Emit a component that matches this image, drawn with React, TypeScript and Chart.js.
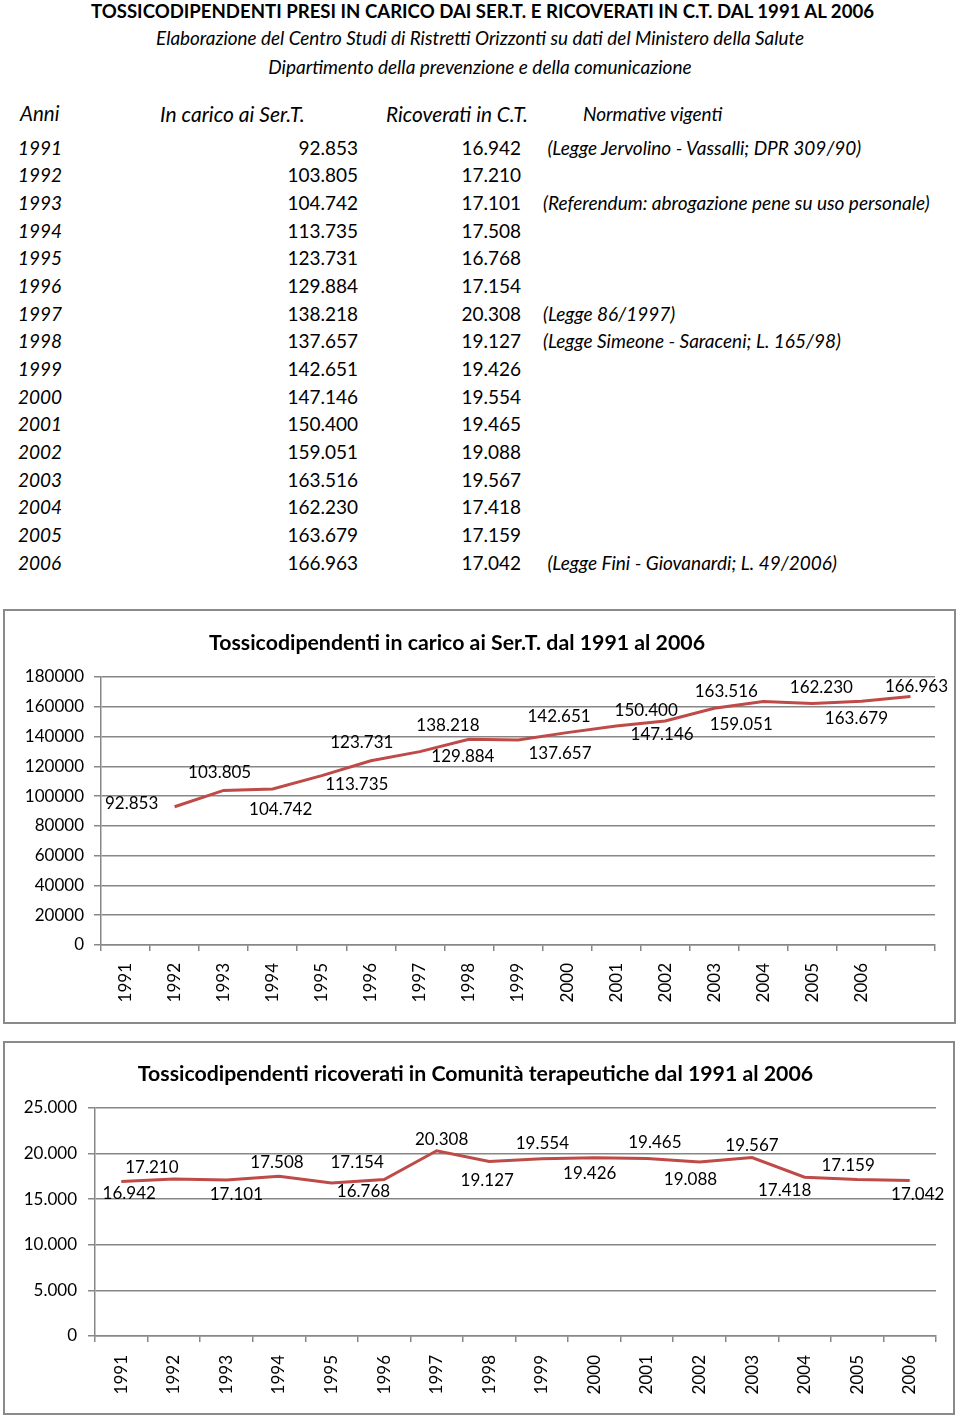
import React, { useEffect, useRef } from "react";
import { Chart, registerables } from "chart.js";

Chart.register(...registerables);

// ---------- data ----------
const years = ["1991", "1992", "1993", "1994", "1995", "1996", "1997", "1998", "1999", "2000", "2001", "2002", "2003", "2004", "2005", "2006"];
const inCarico = [92853, 103805, 104742, 113735, 123731, 129884, 138218, 137657, 142651, 147146, 150400, 159051, 163516, 162230, 163679, 166963];
const ricoverati = [16942, 17210, 17101, 17508, 16768, 17154, 20308, 19127, 19426, 19554, 19465, 19088, 19567, 17418, 17159, 17042];
const normative = [
  " (Legge Jervolino - Vassalli; DPR 309/90)",
  "",
  "(Referendum: abrogazione pene su uso personale)",
  "",
  "",
  "",
  "(Legge 86/1997)",
  "(Legge Simeone - Saraceni; L. 165/98)",
  "",
  "",
  "",
  "",
  "",
  "",
  "",
  " (Legge Fini - Giovanardi; L. 49/2006)",
];
const columnHeaders = ["Anni", "In carico ai Ser.T.", "Ricoverati in C.T.", "Normative vigenti"];
const pageTitle = "TOSSICODIPENDENTI PRESI IN CARICO DAI SER.T. E RICOVERATI IN C.T. DAL 1991 AL 2006";
const subTitle1 = "Elaborazione del Centro Studi di Ristretti Orizzonti su dati del Ministero della Salute";
const subTitle2 = "Dipartimento della prevenzione e della comunicazione";
const chart1Title = "Tossicodipendenti in carico ai Ser.T. dal 1991 al 2006";
const chart2Title = "Tossicodipendenti ricoverati in Comunità terapeutiche dal 1991 al 2006";
const y1Max = 180000;
const y1Step = 20000;
const y2Max = 25000;
const y2Step = 5000;

// ---------- styles (label placement, px offsets from each point) ----------
const labelOffsets1: [number, number][] = [
  [-43, -3], [-4, -18], [8, 20], [35, 9], [-9, -18], [43, 5], [-21, -14], [42, 13],
  [-8, -16], [46, 9], [-19, -11], [27, 16], [-37, -10], [9, -16], [-5, 17], [6, -10],
];
const labelOffsets2: [number, number][] = [
  [8, 12.5], [-22, -12], [10, 14], [-2, -14], [32, 8], [-27, -17], [5, -11], [-2, 19],
  [48, 14.5], [-52, -14], [8, -16], [-9, 18], [0, -12], [-20, 13.5], [-9, -13.5], [8, 14],
];

const FONT = "Lato, 'Open Sans', sans-serif";
const LINE = "#BE4B48";
const GRID = "#878787";

const fmtDot = (v: number) => String(v).replace(/\B(?=(\d{3})+(?!\d))/g, ".");

type TxtProps = {
  x: number;
  y: number;
  align?: "left" | "right" | "center";
  size: number;
  bold?: boolean;
  italic?: boolean;
  children: React.ReactNode;
};

function Txt({ x, y, align = "left", size, bold, italic, children }: TxtProps) {
  const lh = Math.round(size * 1.4);
  const W = 1000;
  let left = x;
  if (align === "right") left = x - W;
  if (align === "center") left = x - W / 2;
  return (
    <div
      style={{
        position: "absolute",
        left,
        top: y - lh / 2,
        width: W,
        height: lh,
        lineHeight: `${lh}px`,
        fontSize: size,
        fontFamily: FONT,
        fontWeight: bold ? 700 : 400,
        fontStyle: italic ? "italic" : "normal",
        textAlign: align,
        whiteSpace: "pre",
        color: "#000",
      }}
    >
      {children}
    </div>
  );
}

function decorPlugin(offsets: [number, number][], title: string, tx: number, ty: number) {
  return {
    id: "decor",
    afterDatasetsDraw(chart: any) {
      const ctx = chart.ctx;
      const meta = chart.getDatasetMeta(0);
      const data = chart.data.datasets[0].data;
      ctx.save();
      ctx.font = `17px ${FONT}`;
      ctx.fillStyle = "#000";
      ctx.textAlign = "center";
      ctx.textBaseline = "middle";
      let k = 0;
      meta.data.forEach((pt: any, i: number) => {
        const v = data[i];
        if (v == null) return;
        const [dx, dy] = offsets[k++];
        ctx.fillText(fmtDot(v), pt.x + dx, pt.y + dy);
      });
      ctx.font = `bold 21.3px ${FONT}`;
      ctx.fillText(title, tx, ty);
      ctx.restore();
    },
  };
}

type ChartProps = {
  w: number;
  h: number;
  labels: string[];
  values: (number | null)[];
  offsets: [number, number][];
  yMax: number;
  yStep: number;
  yFmt: (v: number) => string;
  title: string;
  titleX: number;
  titleY: number;
  topPad: number;
  yWidth: number;
  xHeight: number;
  rightPad: number;
  yPad: number;
  xPad: number;
};

function LineChart(p: ChartProps) {
  const ref = useRef<HTMLCanvasElement>(null);
  useEffect(() => {
    const chart = new Chart(ref.current!, {
      type: "line",
      data: {
        labels: p.labels,
        datasets: [
          {
            data: p.values,
            borderColor: LINE,
            backgroundColor: LINE,
            borderWidth: 3,
            pointRadius: 0,
            tension: 0,
            fill: false,
          },
        ],
      },
      options: {
        responsive: false,
        animation: false,
        devicePixelRatio: 1,
        layout: { padding: { left: 0, right: p.rightPad, top: p.topPad, bottom: 0 } },
        plugins: {
          legend: { display: false },
          tooltip: { enabled: false },
          title: { display: false },
        },
        scales: {
          x: {
            type: "category",
            offset: true,
            grid: {
              display: true,
              drawOnChartArea: false,
              drawTicks: true,
              tickLength: 6,
              color: GRID,
              lineWidth: 1.5,
              offset: true,
            },
            border: { display: true, color: GRID, width: 1.5 },
            ticks: {
              autoSkip: false,
              maxRotation: 90,
              minRotation: 90,
              padding: p.xPad,
              color: "#000",
              font: { family: FONT, size: 17 },
            },
            afterFit: (s: any) => {
              s.height = p.xHeight;
            },
          },
          y: {
            min: 0,
            max: p.yMax,
            grid: { color: GRID, lineWidth: 1.5, tickLength: 7, drawTicks: true },
            border: { display: true, color: GRID, width: 1.5 },
            ticks: {
              stepSize: p.yStep,
              padding: p.yPad,
              color: "#000",
              font: { family: FONT, size: 17 },
              callback: (v: any) => p.yFmt(Number(v)),
            },
            afterFit: (s: any) => {
              s.width = p.yWidth;
            },
          },
        },
      },
      plugins: [decorPlugin(p.offsets, p.title, p.titleX, p.titleY)],
    } as any);
    return () => chart.destroy();
  }, []);
  return <canvas ref={ref} width={p.w} height={p.h} style={{ display: "block", width: p.w, height: p.h }} />;
}

export default function App() {
  const rowY0 = 147;
  const rowStep = 27.67;
  return (
    <div style={{ position: "absolute", left: 0, top: 0, width: 960, height: 1416, background: "#fff", overflow: "hidden" }}>
      <Txt x={482.5} y={11} align="center" size={18.6} bold>{pageTitle}</Txt>
      <Txt x={480} y={38} align="center" size={18.9} italic>{subTitle1}</Txt>
      <Txt x={480} y={66} align="center" size={19} italic>{subTitle2}</Txt>

      <Txt x={20} y={113} size={20.5} italic>{columnHeaders[0]}</Txt>
      <Txt x={160} y={113} size={21} italic>{columnHeaders[1]}</Txt>
      <Txt x={386} y={113} size={20.8} italic>{columnHeaders[2]}</Txt>
      <Txt x={583} y={113} size={19} italic>{columnHeaders[3]}</Txt>

      {years.map((yr, i) => {
        const y = rowY0 + i * rowStep;
        return (
          <React.Fragment key={yr}>
            <Txt x={18} y={y} size={19} italic>{yr}</Txt>
            <Txt x={358} y={y} size={19} align="right">{fmtDot(inCarico[i])}</Txt>
            <Txt x={521} y={y} size={19} align="right">{fmtDot(ricoverati[i])}</Txt>
            {normative[i] ? <Txt x={543} y={y} size={19} italic>{normative[i]}</Txt> : null}
          </React.Fragment>
        );
      })}

      <div style={{ position: "absolute", left: 3, top: 609, width: 949, height: 411, border: `2px solid #8a8a8a` }}>
        <LineChart
          w={949}
          h={411}
          labels={[...years, ""]}
          values={[null, ...inCarico]}
          offsets={labelOffsets1}
          yMax={y1Max}
          yStep={y1Step}
          yFmt={(v) => String(v)}
          title={chart1Title}
          titleX={452}
          titleY={32}
          topPad={66}
          yWidth={96}
          xHeight={77}
          rightPad={19}
          yPad={10}
          xPad={12}
        />
      </div>

      <div style={{ position: "absolute", left: 3, top: 1041, width: 948, height: 370, border: `2px solid #8a8a8a` }}>
        <LineChart
          w={948}
          h={370}
          labels={years}
          values={ricoverati}
          offsets={labelOffsets2}
          yMax={y2Max}
          yStep={y2Step}
          yFmt={fmtDot}
          title={chart2Title}
          titleX={470.5}
          titleY={31}
          topPad={65}
          yWidth={90}
          xHeight={77}
          rightPad={17}
          yPad={11}
          xPad={13}
        />
      </div>
    </div>
  );
}
